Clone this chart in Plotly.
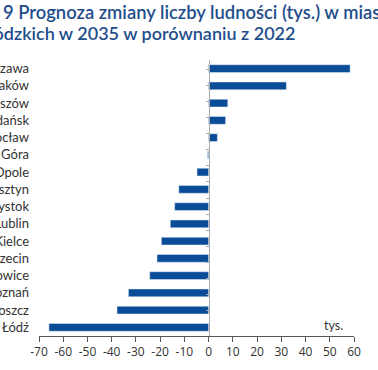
import plotly.graph_objects as go

cities = ["Warszawa", "Kraków", "Rzeszów", "Gdańsk", "Wrocław", "Zielona Góra",
          "Opole", "Olsztyn", "Białystok", "Lublin", "Kielce", "Szczecin",
          "Katowice", "Poznań", "Bydgoszcz", "Łódź"]
values = [58.4, 32.1, 7.9, 7.0, 3.6, -0.4, -4.8, -12.3, -14.0, -15.8,
          -19.5, -21.3, -24.3, -33.1, -37.8, -65.9]
x_ticks = [-70, -60, -50, -40, -30, -20, -10, 0, 10, 20, 30, 40, 50, 60]
x_ticktext = [str(v) for v in x_ticks]
title_line1 = "9 Prognoza zmiany liczby ludności (tys.) w miastach"
title_line2 = "wojewódzkich w 2035 w porównaniu z 2022"
unit_label = "tys."

W, H = 378, 370
ML, MR, MT, MB = 39, 24, 60, 34
PW, PH = W - ML - MR, H - MT - MB
XMIN, XMAX = -70, 60


def px_x(px):
    return (px - ML) / PW


def px_y(py):
    return 1 - (py - MT) / PH


BAR = "#0a4c97"
TITLE = "#1f4e8c"
TXT = "#333333"

fig = go.Figure()
fig.add_trace(go.Bar(y=cities, x=values, orientation="h", marker_color=BAR,
                     width=0.45, showlegend=False))
fig.add_trace(go.Scatter(y=cities, x=values, yaxis="y2", mode="markers",
                         marker=dict(opacity=0), hoverinfo="skip", showlegend=False))

fig.update_layout(
    width=W, height=H,
    margin=dict(l=ML, r=MR, t=MT, b=MB, autoexpand=False),
    paper_bgcolor="white", plot_bgcolor="white",
    font=dict(family="Lato", color=TXT),
    xaxis=dict(range=[XMIN, XMAX], tickvals=x_ticks, ticktext=x_ticktext,
               showline=True, linecolor="#555555", linewidth=1,
               ticks="outside", ticklen=5, tickcolor="#555555",
               showgrid=False, zeroline=False,
               tickfont=dict(family="Open Sans", size=12, color=TXT)),
    yaxis=dict(categoryorder="array", categoryarray=cities, autorange="reversed",
               showline=False, ticks="", showgrid=False, zeroline=False,
               ticklabelstandoff=9,
               tickfont=dict(family="Lato", size=13, color=TXT)),
    yaxis2=dict(overlaying="y", anchor="free", side="left",
                position=(0 - XMIN) / (XMAX - XMIN),
                categoryorder="array", categoryarray=cities, autorange="reversed",
                showline=True, linecolor="#aaaaaa", linewidth=1,
                ticks="outside", ticklen=3, tickcolor="#aaaaaa",
                tickson="boundaries", showticklabels=False,
                showgrid=False, zeroline=False),
    annotations=[
        dict(text=title_line1, xref="paper", yref="paper", x=px_x(1), y=px_y(12),
             xanchor="left", yanchor="middle", showarrow=False,
             font=dict(family="Lato", size=18.4, color=TITLE, weight=600)),
        dict(text=title_line2, xref="paper", yref="paper", x=px_x(297), y=px_y(33),
             xanchor="right", yanchor="middle", showarrow=False,
             font=dict(family="Lato", size=18, color=TITLE, weight=600)),
        dict(text=unit_label, xref="paper", yref="paper", x=px_x(333), y=px_y(325),
             xanchor="center", yanchor="middle", showarrow=False,
             font=dict(family="Lato", size=12.5, color=TXT)),
    ],
)

fig.write_html("out.html", config={"displayModeBar": False},
               post_script="document.body.style.margin='0';")
